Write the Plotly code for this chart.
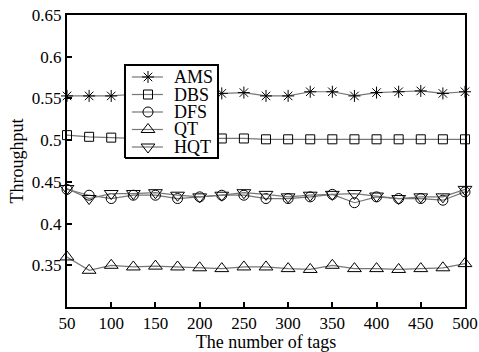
import plotly.graph_objects as go

tags = [50, 75, 100, 125, 150, 175, 200, 225, 250, 275, 300, 325, 350, 375, 400, 425, 450, 475, 500]
ams = [0.553, 0.553, 0.553, 0.555, 0.555, 0.554, 0.555, 0.556, 0.557, 0.553, 0.553, 0.558, 0.558, 0.553, 0.557, 0.558, 0.559, 0.556, 0.558]
dbs = [0.506, 0.504, 0.503, 0.502, 0.502, 0.502, 0.502, 0.502, 0.502, 0.501, 0.501, 0.501, 0.501, 0.501, 0.501, 0.501, 0.501, 0.501, 0.501]
dfs = [0.441, 0.434, 0.430, 0.434, 0.434, 0.430, 0.432, 0.434, 0.434, 0.430, 0.430, 0.432, 0.435, 0.425, 0.432, 0.430, 0.430, 0.428, 0.438]
qt = [0.360, 0.344, 0.350, 0.348, 0.349, 0.348, 0.347, 0.346, 0.348, 0.348, 0.346, 0.345, 0.350, 0.346, 0.346, 0.345, 0.346, 0.347, 0.352]
hqt = [0.442, 0.430, 0.436, 0.436, 0.437, 0.434, 0.432, 0.434, 0.437, 0.435, 0.432, 0.434, 0.435, 0.436, 0.433, 0.430, 0.432, 0.432, 0.441]

series_names = ["AMS", "DBS", "DFS", "QT", "HQT"]
series_values = [ams, dbs, dfs, qt, hqt]
series_symbols = ["asterisk-open", "square-open", "circle-open", "triangle-up-open", "triangle-down-open"]
series_sizes = [10, 9, 10, 12, 12]

x_ticks = [50, 100, 150, 200, 250, 300, 350, 400, 450, 500]
y_ticks = [0.35, 0.4, 0.45, 0.5, 0.55, 0.6, 0.65]
y_tick_text = ["0.35", "0.4", "0.45", "0.5", "0.55", "0.6", "0.65"]

font_family = "Liberation Serif"
line_col = "#777777"

fig = go.Figure()
for name, vals, sym, sz in zip(series_names, series_values, series_symbols, series_sizes):
    fig.add_trace(go.Scatter(
        x=tags, y=vals, name=name, mode="lines+markers", showlegend=False, cliponaxis=False,
        line=dict(color=line_col, width=1.2),
        marker=dict(symbol=sym, size=sz, color="black", line=dict(color="black", width=1)),
    ))

# custom legend box (overlay axes in [0,1] spanning the plot area)
bx0, bx1, by0, by1 = 0.1457, 0.3794, 0.510, 0.829
fig.add_trace(go.Scatter(
    x=[bx0, bx1, bx1, bx0, bx0], y=[by0, by0, by1, by1, by0],
    xaxis="x2", yaxis="y2", mode="lines", fill="toself", fillcolor="white",
    line=dict(color="black", width=2), showlegend=False, hoverinfo="skip",
))
item_y = [0.7877, 0.7277, 0.6678, 0.6079, 0.5479]
lx0, lx1, mx, tx = 0.163, 0.241, 0.2035, 0.2638
for name, sym, sz, yy in zip(series_names, series_symbols, series_sizes, item_y):
    fig.add_trace(go.Scatter(
        x=[lx0, lx1], y=[yy, yy], xaxis="x2", yaxis="y2", mode="lines",
        line=dict(color=line_col, width=1.2), showlegend=False, hoverinfo="skip",
    ))
    fig.add_trace(go.Scatter(
        x=[mx], y=[yy], xaxis="x2", yaxis="y2", mode="markers",
        marker=dict(symbol=sym, size=sz, color="black", line=dict(color="black", width=1)),
        showlegend=False, hoverinfo="skip",
    ))
    fig.add_annotation(x=tx, y=yy, xref="x2", yref="y2", text=name, showarrow=False,
                       xanchor="left", yanchor="middle",
                       font=dict(family=font_family, size=18, color="black"))

axis_common = dict(
    ticks="inside", ticklen=5, tickwidth=1.5, tickcolor="black",
    showline=True, linecolor="black", linewidth=2, mirror=True,
    showgrid=False, zeroline=False, automargin=False,
    ticklabeloverflow="allow",
    tickfont=dict(family=font_family, size=17, color="black"),
)

fig.update_layout(
    template="none",
    width=479, height=352,
    margin=dict(l=67, r=14, t=15, b=45),
    plot_bgcolor="white", paper_bgcolor="white",
    font=dict(family=font_family, size=16, color="black"),
    showlegend=False,
    xaxis=dict(range=[50, 500], tickvals=x_ticks,
               title=dict(text="The number of tags", font=dict(family=font_family, size=18, color="black"), standoff=4),
               **axis_common),
    yaxis=dict(range=[0.3, 0.65], tickvals=y_ticks, ticktext=y_tick_text,
               title=dict(text="Throughput", font=dict(family=font_family, size=18, color="black"), standoff=4),
               **axis_common),
    xaxis2=dict(overlaying="x", range=[0, 1], visible=False, fixedrange=True),
    yaxis2=dict(overlaying="y", range=[0, 1], visible=False, fixedrange=True),
)

fig.write_html("out.html", config={"displayModeBar": False},
               post_script="document.body.style.margin='0';")
